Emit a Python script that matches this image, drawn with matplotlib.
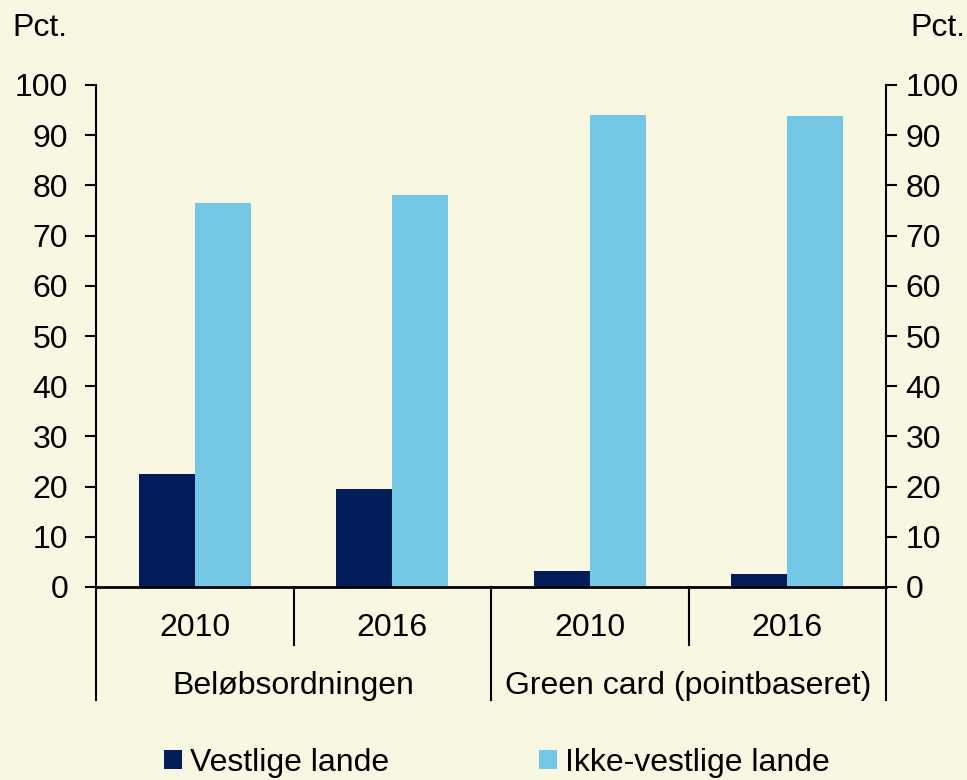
import matplotlib.pyplot as plt
import matplotlib.transforms as mtransforms
import numpy as np

plt.rcParams['font.family'] = ['Liberation Sans', 'DejaVu Sans']

# Data
years = ['2010', '2016', '2010', '2016']
groups = ['Beløbsordningen', 'Green card (pointbaseret)']
vestlige = [22.5, 19.5, 3.2, 2.6]
ikke_vestlige = [76.5, 78.1, 94.0, 93.8]

bg = '#F8F7E1'
dark = '#031C5A'
light = '#74C8E6'
fs = 23

fig = plt.figure(figsize=(9.67, 7.80), dpi=100, facecolor=bg)
ax = fig.add_axes([96 / 967, 1 - 587 / 780, (886 - 96) / 967, (587 - 85) / 780])
ax.set_facecolor(bg)

x = np.arange(len(years))
w = 0.284
ax.bar(x - w / 2, vestlige, w, color=dark, label='Vestlige lande')
ax.bar(x + w / 2, ikke_vestlige, w, color=light, label='Ikke-vestlige lande')

ax.set_xlim(-0.5, 3.5)
ax.set_ylim(0, 100)
ax.set_yticks(range(0, 101, 10))
ax.tick_params(axis='y', direction='out', length=8, width=1.5, labelsize=fs, pad=12)
ax.set_xticks([])
for s in ['top', 'right']:
    ax.spines[s].set_visible(False)
ax.spines['left'].set_linewidth(1.5)
ax.spines['bottom'].set_linewidth(2)

ax2 = ax.twinx()
ax2.set_ylim(0, 100)
ax2.set_yticks(range(0, 101, 10))
ax2.tick_params(axis='y', direction='out', length=8, width=1.5, labelsize=fs, pad=6)
for s in ['top', 'left', 'bottom']:
    ax2.spines[s].set_visible(False)
ax2.spines['right'].set_linewidth(1.5)

# category axis: years and groups with separators
trans = mtransforms.blended_transform_factory(ax.transData, ax.transAxes)
for xs in [0.5, 2.5]:
    ax.plot([xs, xs], [0, -0.1155], color='black', lw=1.5, transform=trans, clip_on=False)
for xs in [-0.5, 1.5, 3.5]:
    ax.plot([xs, xs], [0, -0.225], color='black', lw=1.5, transform=trans, clip_on=False)
for xi, yr in zip(x, years):
    ax.text(xi, -0.082, yr, ha='center', va='center', fontsize=fs, transform=trans)
for gi, g in enumerate(groups):
    ax.text(gi * 2 + 0.5, -0.197, g, ha='center', va='center', fontsize=fs, transform=trans)

fig.text(12 / 967, 1 - 28 / 780, 'Pct.', fontsize=fs, ha='left', va='center')
fig.text(965 / 967, 1 - 28 / 780, 'Pct.', fontsize=fs, ha='right', va='center')

fig.legend(loc='center', bbox_to_anchor=(497 / 967, 1 - 763 / 780), ncol=2, frameon=False,
           fontsize=fs, handlelength=0.55, handleheight=0.55, handletextpad=0.25,
           columnspacing=4.7, borderaxespad=0)

fig.savefig('out.png', dpi=100, facecolor=bg)
